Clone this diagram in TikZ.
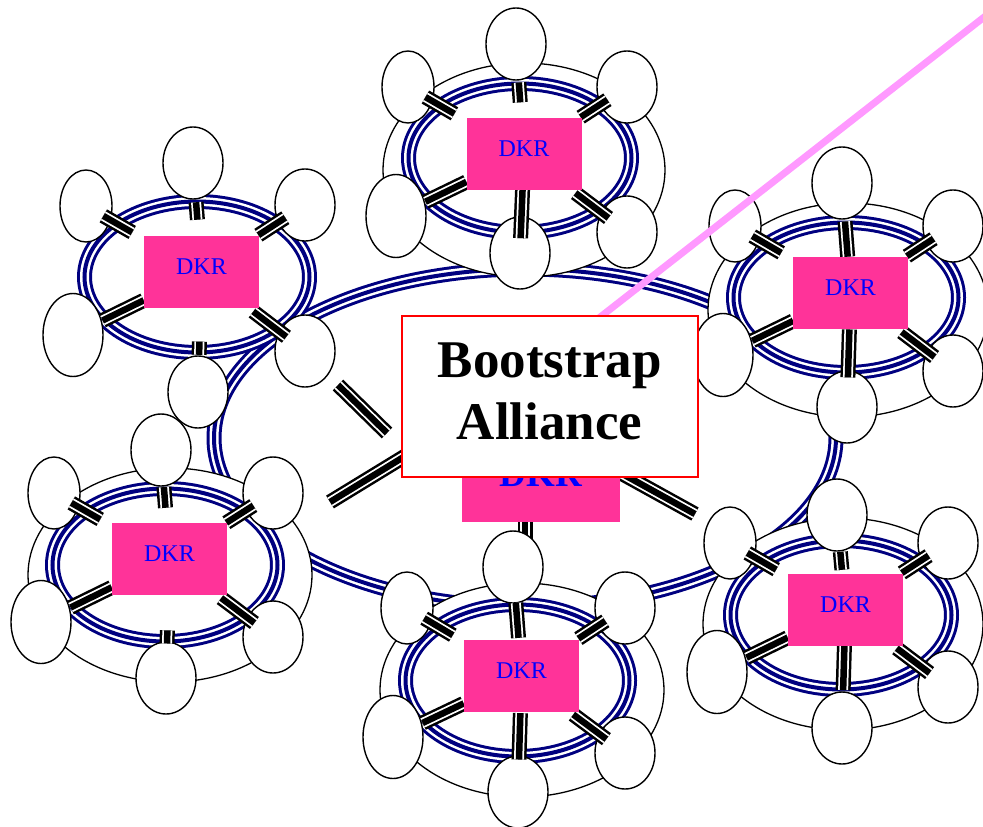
\documentclass[tikz,border=0pt]{standalone}
\usepackage{fontspec}
\setmainfont{Liberation Serif}
\usetikzlibrary{shapes.geometric,calc}
\definecolor{navyc}{RGB}{0,0,128}
\definecolor{dkrpink}{RGB}{255,51,153}
\definecolor{lilac}{RGB}{255,153,255}
\tikzset{
  sat/.style={ellipse, draw=black, fill=white, line width=1.4pt, minimum width=60pt, minimum height=72pt, inner sep=0pt},
  satn/.style={sat, minimum width=52pt},
  satt/.style={sat, minimum height=83pt},
  dkr/.style={rectangle, fill=dkrpink, text=blue, minimum width=115pt, minimum height=72pt, inner sep=0pt, font=\fontsize{24}{24}\selectfont, text depth=10pt},
  spk/.style={draw=black, line width=15pt, postaction={draw=white, line width=10pt}, postaction={draw=black, line width=6.5pt}},
  navyring/.style={draw=navyc, line width=15pt, postaction={draw=white, line width=9pt}, postaction={draw=navyc, line width=4pt}},
  outerring/.style={draw=black, fill=white, line width=1.3pt},
}
\newcommand\Spk[4]{\draw[spk] ($(#1)!#3!(#2)$) -- ($(#1)!#4!(#2)$);}
\newcommand\Spokes[5]{%
  \Spk{#11}{#1K}{#2}{#3}
  \Spk{#12}{#1K}{0.15}{0.40}
  \Spk{#13}{#1K}{0.19}{0.45}
  \Spk{#14}{#1K}{0.23}{0.55}
  \Spk{#15}{#1K}{0.18}{0.50}
  \Spk{#16}{#1K}{#4}{#5}}
\begin{document}
\begin{tikzpicture}[x=1pt,y=-1pt]
\useasboundingbox (0,0) rectangle (983,827);
\clip (0,0) rectangle (983,827);
% big ring
\coordinate (ringc) at (525,438);
\draw[navyring] (ringc) ellipse [x radius=311pt, y radius=169pt];
% central cluster
\coordinate (gK) at (541,476);
\coordinate (g1a) at (338,385); \coordinate (g1b) at (387,433);
\coordinate (g2a) at (330,502); \coordinate (g2b) at (420,447);
\coordinate (g3a) at (610,467); \coordinate (g3b) at (695,514);
\coordinate (g4a) at (525,515); \coordinate (g4b) at (525,545);
\draw[spk] (g1a) -- (g1b);
\draw[spk] (g2a) -- (g2b);
\draw[spk] (g3a) -- (g3b);
\draw[spk] (g4a) -- (g4b);
\node[dkr, minimum width=158pt, minimum height=92pt, font=\fontsize{37}{37}\selectfont\bfseries, text depth=2.5pt] (g) at (gK) {DKR};
% cluster b (upper left, no outer ring)
\draw[navyring] (197,277) ellipse [x radius=112.5pt, y radius=75.5pt];
\node[sat] (b1) at (193,163) {};
\node[satn] (b2) at (86,206) {};
\node[sat] (b3) at (305,205) {};
\node[satt] (b4) at (73,335) {};
\node[sat] (b5) at (305,351) {};
\node[sat] (b6) at (198,392) {};
\coordinate (bK) at (201.5,272);
\Spokes{b}{0.36}{0.52}{0.31}{0.42}
\node[dkr] (b) at (bK) {DKR};
% cluster a (top centre)
\draw[outerring] (524,170) ellipse [x radius=141pt, y radius=107pt];
\draw[navyring] (520,158) ellipse [x radius=111.5pt, y radius=74.5pt];
\node[sat] (a1) at (516,44) {};
\node[satn] (a2) at (408,87) {};
\node[sat] (a3) at (627,87) {};
\node[satt] (a4) at (396,216) {};
\node[sat] (a5) at (627,232) {};
\node[sat] (a6) at (520,253) {};
\coordinate (aK) at (524,154);
\Spokes{a}{0.35}{0.53}{0.15}{0.71}
\node[dkr] (a) at (aK) {DKR};
% cluster c (left)
\draw[outerring] (170,575) ellipse [x radius=142pt, y radius=107pt];
\draw[navyring] (165,565) ellipse [x radius=112.5pt, y radius=76.5pt];
\node[sat] (c1) at (161,450) {};
\node[satn] (c2) at (54,493) {};
\node[sat] (c3) at (273,493) {};
\node[satt] (c4) at (41,622) {};
\node[sat] (c5) at (273,637) {};
\node[sat] (c6) at (166,678) {};
\coordinate (cK) at (169.5,559);
\Spokes{c}{0.34}{0.53}{0.29}{0.40}
\node[dkr] (c) at (cK) {DKR};
% cluster d (right)
\draw[outerring] (848,310) ellipse [x radius=140pt, y radius=107pt];
\draw[navyring] (846,297.5) ellipse [x radius=112.5pt, y radius=75pt];
\node[sat] (d1) at (842,183) {};
\node[satn] (d2) at (735,226) {};
\node[sat] (d3) at (953,226) {};
\node[satt] (d4) at (723,355) {};
\node[sat] (d5) at (953,371) {};
\node[sat] (d6) at (847,407) {};
\coordinate (dK) at (850.5,293);
\Spokes{d}{0.35}{0.67}{0.26}{0.68}
\node[dkr] (d) at (dK) {DKR};
% cluster e (bottom right)
\draw[outerring] (843,624) ellipse [x radius=140pt, y radius=106pt];
\draw[navyring] (841,615) ellipse [x radius=110.5pt, y radius=74.5pt];
\node[sat] (e1) at (837,515) {};
\node[satn] (e2) at (730,543) {};
\node[sat] (e3) at (948,543) {};
\node[satt] (e4) at (717,672) {};
\node[sat] (e5) at (948,687) {};
\node[sat] (e6) at (842,728) {};
\coordinate (eK) at (845.5,609.5);
\Spokes{e}{0.39}{0.58}{0.32}{0.73}
\node[dkr] (e) at (eK) {DKR};
% cluster f (bottom centre)
\draw[outerring] (522,690) ellipse [x radius=142pt, y radius=107pt];
\draw[navyring] (517.5,680.5) ellipse [x radius=112pt, y radius=76pt];
\node[sat] (f1) at (513,567) {};
\node[satn] (f2) at (407,608) {};
\node[sat] (f3) at (625,608) {};
\node[satt] (f4) at (393,737) {};
\node[sat] (f5) at (625,753) {};
\node[sat] (f6) at (518,792) {};
\coordinate (fK) at (521.5,676);
\Spokes{f}{0.33}{0.65}{0.28}{0.68}
\node[dkr] (f) at (fK) {DKR};
% pink line
\coordinate (pk1) at (990,12.5);
\coordinate (pk2) at (590,325);
\draw[lilac, line width=7pt] (pk1) -- (pk2);
% Bootstrap Alliance box
\node[draw=red, line width=2pt, fill=white, minimum width=296pt, minimum height=161pt, inner sep=0pt] (ba) at (549.7,396.7) {};
\node[font=\fontsize{53}{62}\selectfont\bfseries, align=center, inner sep=0pt] (bat) at (549.7,391.5) {Bootstrap\\Alliance};
\end{tikzpicture}
\end{document}
